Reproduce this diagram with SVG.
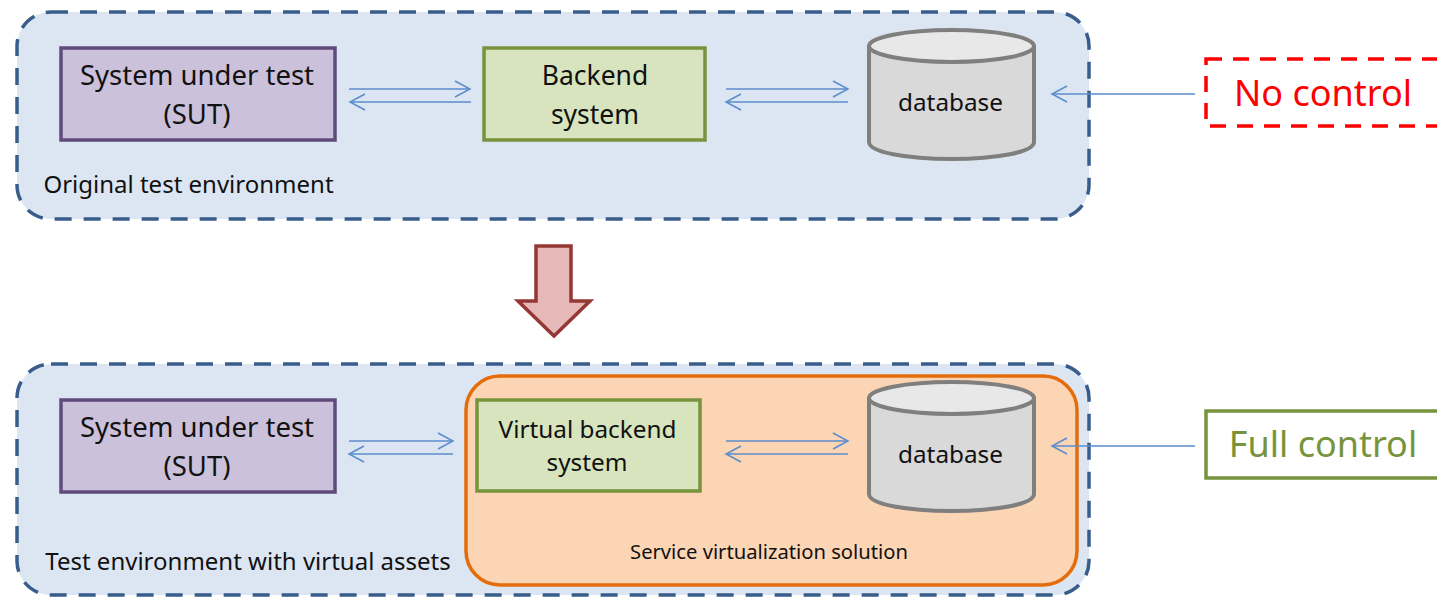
<svg xmlns="http://www.w3.org/2000/svg" width="1437" height="597" viewBox="0 0 1437 597">
<style>
text{font-family:"Noto Sans","Open Sans",sans-serif;fill:#111;text-anchor:middle}
.env{fill:#dce6f2;stroke:#385d8a;stroke-width:3.5;stroke-dasharray:17 12}
.sut{fill:#ccc1da;stroke:#604a7b;stroke-width:3.5}
.back{fill:#d7e4bd;stroke:#77933c;stroke-width:3.5}
.t{font-size:27.500px}
.b{font-size:26.500px}
.m{font-size:24.300px}
.s{font-size:24px}
.c{fill:none;stroke:#5b8ccb;stroke-width:1.5}
.dbb{fill:#d9d9d9;stroke:#7f7f7f;stroke-width:4}
.dbt{fill:#e8e8e8;stroke:#7f7f7f;stroke-width:4}
</style>
<defs>
<marker id="a" markerUnits="userSpaceOnUse" markerWidth="18" markerHeight="20" refX="16" refY="10" orient="auto-start-reverse"><path d="M1 2L16 10L1 18" fill="none" stroke="#5b8ccb" stroke-width="1.5"/></marker>
<g id="db">
<path class="dbb" d="M0 18V113C0 123 37 130 82.500 130S165 123 165 113V18Z"/>
<ellipse class="dbt" cx="82.500" cy="17" rx="82.500" ry="16"/>
<text class="m" x="81.500" y="82">database</text>
</g>
</defs>
<g id="env-original"><rect class="env" x="17" y="12" width="1072" height="207" rx="34"/><text class="s" x="188.500" y="193">Original test environment</text></g>
<g id="env-virtual"><rect class="env" x="17" y="364" width="1072" height="231" rx="34"/><text class="s" x="248" y="570">Test environment with virtual assets</text></g>
<g id="virtualization-solution"><rect x="466" y="376" width="611" height="209" rx="34" fill="#fcd5b5" stroke="#e46c0a" stroke-width="3.500"/><text x="769" y="559" font-size="20.200">Service virtualization solution</text></g>
<g id="sut-1"><rect class="sut" x="61" y="48" width="274" height="92"/><text class="t" x="197" y="85">System under test</text><text class="t" x="197" y="124">(SUT)</text></g>
<g id="backend"><rect class="back" x="484" y="48" width="221" height="92"/><text class="b" x="595" y="85">Backend</text><text class="b" x="595" y="124">system</text></g>
<g id="db-1"><use href="#db" x="869" y="29"/></g>
<g id="no-control"><rect x="1206" y="59" width="260" height="67" fill="#fff" stroke="#f00" stroke-width="3.500" stroke-dasharray="16 11"/><text x="1323" y="106" font-size="36" style="fill:#f00">No control</text></g>
<g id="sut-2"><rect class="sut" x="61" y="400" width="274" height="92"/><text class="t" x="197" y="437">System under test</text><text class="t" x="197" y="476">(SUT)</text></g>
<g id="virtual-backend"><rect class="back" x="477" y="400" width="223" height="91"/><text class="m" x="587.500" y="438">Virtual backend</text><text class="m" x="587" y="471">system</text></g>
<g id="db-2"><use href="#db" x="869" y="381"/></g>
<g id="full-control"><rect x="1206" y="411" width="260" height="67" fill="#fff" stroke="#77933c" stroke-width="3.500"/><text x="1323" y="457" font-size="36" style="fill:#77933c">Full control</text></g>
<g id="transition"><path d="M536 246H571V301H590L554 336L518 301H536Z" fill="#e6b9b8" stroke="#953735" stroke-width="3.500"/></g>
<g id="connectors">
<path class="c" marker-end="url(#a)" d="M349 89H470"/>
<path class="c" marker-start="url(#a)" d="M350 102H471"/>
<path class="c" marker-end="url(#a)" d="M726 89H848"/>
<path class="c" marker-start="url(#a)" d="M726 102H848"/>
<path class="c" marker-end="url(#a)" d="M1195 94H1052"/>
<path class="c" marker-end="url(#a)" d="M349 441H453"/>
<path class="c" marker-start="url(#a)" d="M349 454H453"/>
<path class="c" marker-end="url(#a)" d="M726 441H848"/>
<path class="c" marker-start="url(#a)" d="M726 454H848"/>
<path class="c" marker-end="url(#a)" d="M1195 446H1052"/>
</g>
</svg>
